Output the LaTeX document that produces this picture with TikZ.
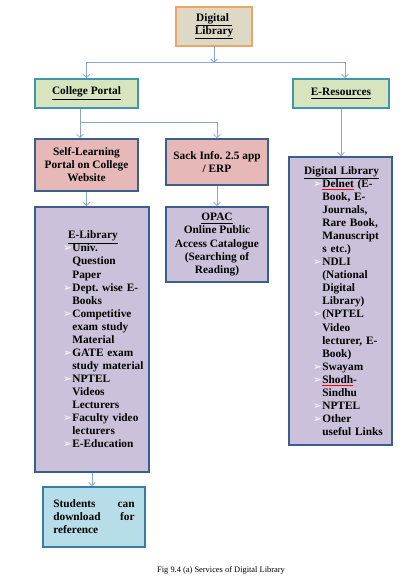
\documentclass[tikz,border=0pt]{standalone}
\usepackage{fontspec}
\setmainfont{Liberation Serif}
\newfontfamily\dejavu{DejaVu Sans}
\usetikzlibrary{arrows.meta}
\frenchspacing

\definecolor{tanfill}{HTML}{DDD9C4}
\definecolor{tanline}{HTML}{EDA469}
\definecolor{greenfill}{HTML}{D7E4BD}
\definecolor{tealline}{HTML}{3F97AE}
\definecolor{pinkfill}{HTML}{E6B9B8}
\definecolor{navyline}{HTML}{3A5F8C}
\definecolor{lilacfill}{HTML}{CCC1DA}
\definecolor{bluefill}{HTML}{B7DDE8}
\definecolor{stline}{HTML}{3A7CA5}
\definecolor{arrowc}{HTML}{8AA6CC}

\newcommand{\bul}{{\dejavu\fontsize{8}{8}\selectfont\color{white}\symbol{"27A2}}}
\newcommand{\li}[1]{\par\hangindent=7pt\hangafter=1\noindent\makebox[7pt][l]{\bul}#1}
\newcommand{\redul}[1]{{\color{red}\underline{\color{black}#1}}}
\newcommand{\jline}[1]{\leavevmode\hbox to 61pt{#1}}

\begin{document}
\begin{tikzpicture}[x=0.75pt,y=-0.75pt,
  cbox/.style={draw,line width=1.3pt,inner sep=1pt,font=\fontsize{8.5}{9.8}\selectfont\bfseries},
  toptitle/.style={cbox,fill=tanfill,draw=tanline,align=center},
  portal/.style={cbox,fill=greenfill,draw=tealline,align=center},
  service/.style={cbox,fill=pinkfill,draw=navyline,align=center},
  listbox/.style={cbox,fill=lilacfill,draw=navyline,align=left},
  outbox/.style={cbox,fill=bluefill,draw=stline,align=left},
  conn/.style={draw=arrowc,line width=0.6pt,-{Straight Barb[length=2.5pt,width=5pt]}},
  lnk/.style={draw=arrowc,line width=0.6pt}]
\useasboundingbox (0,0) rectangle (417,579);

\node[toptitle,minimum width=57pt,minimum height=29.25pt] (dl) at (214,26.5)
  {\underline{Digital\ }\\\underline{Library}};

\node[portal,minimum width=77.25pt,minimum height=21.75pt] (cp) at (86.5,93.5)
  {\underline{College Portal}};
\node[portal,minimum width=72pt,minimum height=21.75pt] (er) at (341,93.5)
  {\underline{E-Resources}};

\node[service,minimum width=77.25pt,minimum height=39pt] (sl) at (86.5,165)
  {Self-Learning\\Portal on College\\Website};
\node[service,minimum width=76.5pt,minimum height=34.5pt] (si) at (217,162)
  {Sack Info. 2.5 app\\/ ERP};

\node[listbox,minimum width=85.5pt,minimum height=198.75pt,text width=82.5pt] (el) at (92,339.5)
  {\leftskip=19.5pt\hspace*{3.75pt}\underline{E-Library}
   \li{Univ.\newline Question\newline Paper}
   \li{Dept. wise E-\newline Books}
   \li{Competitive\newline exam study\newline Material}
   \li{GATE exam\newline study material}
   \li{NPTEL\newline Videos\newline Lecturers}
   \li{Faculty video\newline lecturers}
   \li{E-Education}\par};

\node[listbox,align=center,minimum width=76.5pt,minimum height=56.25pt] (op) at (217,244.5)
  {\underline{OPAC}\\Online Public\\Access Catalogue\\(Searching of\\Reading)};

\node[listbox,minimum width=77.25pt,minimum height=216pt,text width=71.25pt] (rdl) at (340.5,301)
  {\leftskip=15pt\hspace*{-6.75pt}\underline{Digital Library}
   \li{\redul{Delnet} (E-\newline Book, E-\newline Journals,\newline Rare Book,\newline Manuscript\newline s etc.)}
   \li{NDLI\newline (National\newline Digital\newline Library)}
   \li{(NPTEL\newline Video\newline lecturer, E-\newline Book)}
   \li{Swayam}
   \li{\redul{Shodh}-\newline Sindhu}
   \li{NPTEL}
   \li{Other\newline useful Links}\par};

\node[outbox,minimum width=76.5pt,minimum height=45pt,text width=61pt] (st) at (94,517)
  {\jline{Students\hfill can}\\\jline{download\hfill for}\\reference};

\node[font=\fontsize{6.3}{7}\selectfont] (cap) at (221,570) {Fig 9.4 (a) Services of Digital Library};

\draw[conn] (dl.south) -- ++(0,16) coordinate (bus);
\draw[conn] (bus) -| (cp.north);
\draw[conn] (bus) -| ([xshift=3pt]er.north);

\draw[lnk] ([xshift=-4.9pt]cp.south) -- ++(0,14) coordinate (cpbus);
\draw[conn] (cpbus) -- (cpbus |- sl.north);
\draw[conn] (cpbus) -| (si.north);

\draw[conn] (er.south) -- (er.south |- rdl.north);
\draw[conn] (sl.south) -- (sl.south |- el.north);
\draw[conn] (si.south) -- (op.north);
\draw[conn] (el.south) -- (el.south |- st.north);
\end{tikzpicture}
\end{document}
